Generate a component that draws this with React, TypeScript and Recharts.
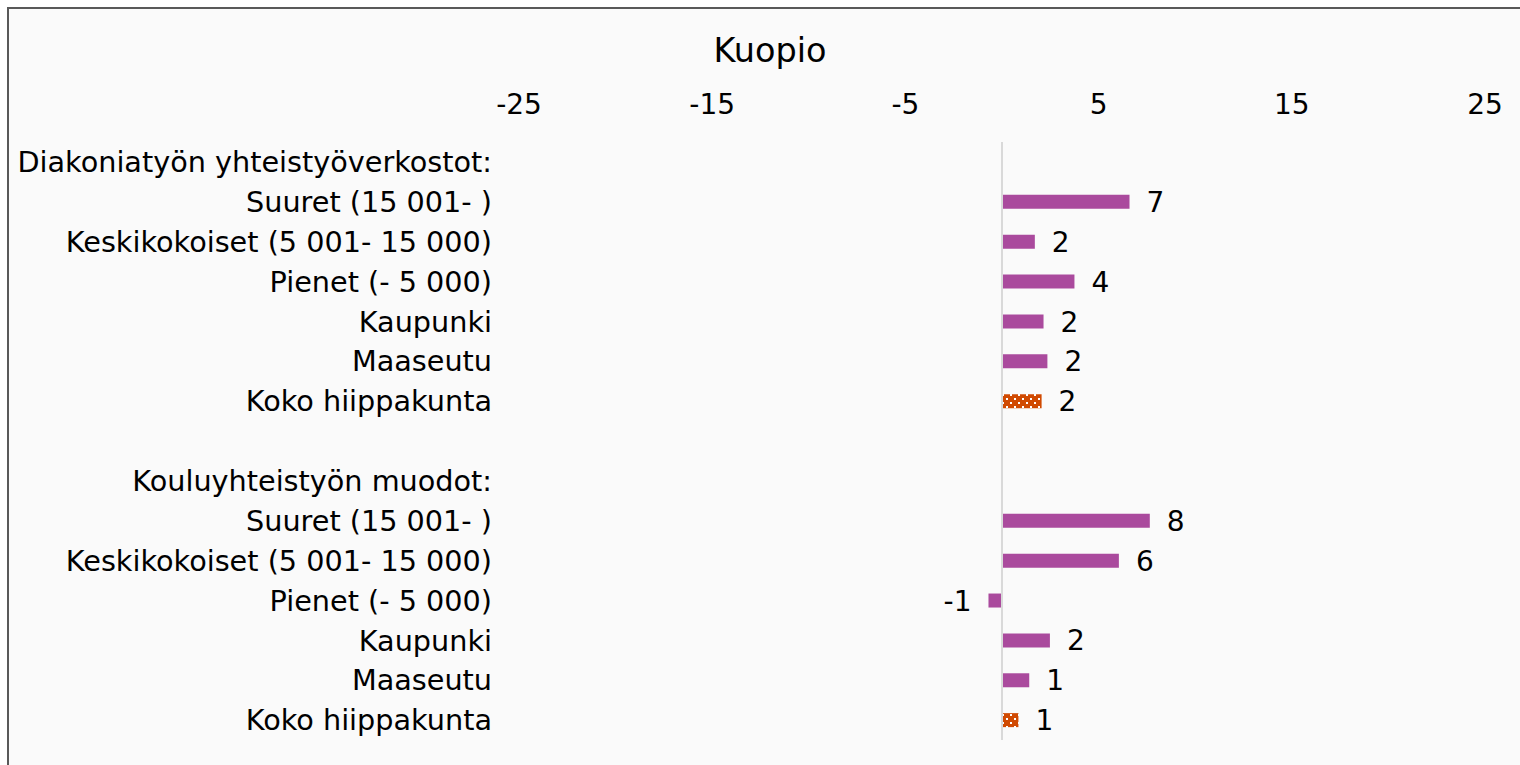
import { Bar, BarChart, Cell, LabelList, ReferenceLine, XAxis, YAxis } from 'recharts';

const categories = [
  'Diakoniatyön yhteistyöverkostot:',
  'Suuret (15 001- )',
  'Keskikokoiset (5 001- 15 000)',
  'Pienet (- 5 000)',
  'Kaupunki',
  'Maaseutu',
  'Koko hiippakunta',
  '',
  'Kouluyhteistyön muodot:',
  'Suuret (15 001- )',
  'Keskikokoiset (5 001- 15 000)',
  'Pienet (- 5 000)',
  'Kaupunki',
  'Maaseutu',
  'Koko hiippakunta',
];

const values: (number | null)[] = [
  null, 6.6, 1.7, 3.75, 2.15, 2.35, 2.05,
  null,
  null, 7.65, 6.05, -0.7, 2.48, 1.41, 0.85,
];

const xTicks = [-25, -15, -5, 5, 15, 25];

const totalLabel = 'Koko hiippakunta';
const PURPLE = '#AA4A9D';
const ORANGE = '#D04A02';
const FONT = '"DejaVu Sans", Verdana, sans-serif';

const data = categories.map((c, i) => ({ id: String(i), name: c, value: values[i] }));

function ValueLabel(props: any) {
  const { x, y, width, height, value } = props;
  if (value === null || value === undefined) return null;
  const left = Math.min(x, x + width);
  const right = Math.max(x, x + width);
  const pos = value >= 0;
  return (
    <text
      x={pos ? right + 17 : left - 17}
      y={y + height / 2}
      dy="0.36em"
      textAnchor={pos ? 'start' : 'end'}
      fontSize={28}
      fontFamily={FONT}
      fill="#000"
    >
      {Math.round(value)}
    </text>
  );
}

export default function App() {
  return (
    <div
      style={{
        position: 'absolute', left: 7, top: 7, width: 1540, height: 780,
        border: '2px solid #595959', background: '#FAFAFA', boxSizing: 'border-box',
        fontFamily: FONT,
      }}
    >
      <div
        style={{
          position: 'absolute', left: 0, top: 25, width: 1522, textAlign: 'center',
          fontSize: 33.5, lineHeight: '33px', color: '#000',
        }}
      >
        Kuopio
      </div>
      <BarChart
        width={1520}
        height={760}
        data={data}
        layout="vertical"
        margin={{ top: 83, right: 44, bottom: 29, left: 0 }}
      >
        <defs>
          <pattern id="dots" width="8" height="8" patternUnits="userSpaceOnUse">
            <rect width="8" height="8" fill={ORANGE} />
            <rect x="1" y="1" width="2" height="2" fill="#fff" />
            <rect x="5" y="5" width="2" height="2" fill="#fff" />
          </pattern>
        </defs>
        <XAxis
          type="number"
          orientation="top"
          domain={[-25, 25]}
          ticks={xTicks}
          height={50}
          axisLine={false}
          tickLine={false}
          tickSize={0}
          tickMargin={28}
          tick={{ fontSize: 28, fill: '#000', fontFamily: FONT }}
        />
        <YAxis
          type="category"
          dataKey="id"
          width={510}
          axisLine={false}
          tickLine={false}
          tickSize={0}
          tickMargin={27}
          interval={0}
          tickFormatter={(v) => categories[Number(v)]}
          tick={{ fontSize: 28.7, fill: '#000', fontFamily: FONT }}
        />
        <ReferenceLine x={0} stroke="#D9D9D9" strokeWidth={2} />
        <Bar dataKey="value" barSize={14} isAnimationActive={false}>
          {data.map((d, i) => (
            <Cell key={i} fill={d.name === totalLabel ? 'url(#dots)' : PURPLE} />
          ))}
          <LabelList dataKey="value" content={ValueLabel} />
        </Bar>
      </BarChart>
    </div>
  );
}
